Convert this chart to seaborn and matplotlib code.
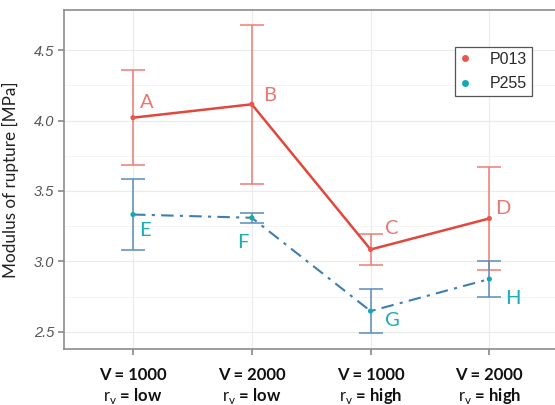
import numpy as np
import pandas as pd
import seaborn as sns
import matplotlib
matplotlib.use("Agg")
import matplotlib.pyplot as plt
from matplotlib.lines import Line2D

# ---- data ----
v_labels = ["V = 1000", "V = 2000", "V = 1000", "V = 2000"]
rv_labels = ["low", "low", "high", "high"]
series = ["P013", "P255"]
p013_mean = [4.02, 4.115, 3.085, 3.305]
p013_err = [0.335, 0.565, 0.11, 0.365]
p255_mean = [3.333, 3.31, 2.648, 2.875]
p255_err = [0.255, 0.035, 0.158, 0.125]
p013_letters = ["A", "B", "C", "D"]
p255_letters = ["E", "F", "G", "H"]
y_ticks = [2.5, 3.0, 3.5, 4.0, 4.5]

# ---- style ----
sns.set_theme(style="whitegrid")
plt.rcParams["font.family"] = ["Lato", "DejaVu Sans"]
plt.rcParams["mathtext.fontset"] = "custom"
plt.rcParams["mathtext.rm"] = "Lato"

red_line = "#e2473c"
red_err = "#ee7d75"
red_pt = "#e8574d"
red_txt = "#e9786f"
teal_pt = "#12a9b3"
teal_txt = "#1aadb5"
blue_line = "#3f7fae"
blue_err = "#5a8dbb"

x = np.arange(len(v_labels))
df = pd.DataFrame({
    "x": np.concatenate([x, x]),
    "value": p013_mean + p255_mean,
    "series": [series[0]] * len(x) + [series[1]] * len(x),
})

fig = plt.figure(figsize=(5.55, 4.05), dpi=100)
ax = fig.add_axes([64 / 555, 56 / 405, 496 / 555, 339 / 405])

# error bars
ax.errorbar(x, p013_mean, yerr=p013_err, fmt="none", ecolor=red_err,
            elinewidth=1.1, capsize=8.3, capthick=1.1, zorder=3)
ax.errorbar(x, p255_mean, yerr=p255_err, fmt="none", ecolor=blue_err,
            elinewidth=1.1, capsize=8.3, capthick=1.1, zorder=3)

sns.lineplot(data=df[df.series == series[0]], x="x", y="value", ax=ax,
             color=red_line, linewidth=1.8, legend=False, zorder=4)
sns.lineplot(data=df[df.series == series[1]], x="x", y="value", ax=ax,
             color=blue_line, linewidth=1.5, legend=False, zorder=4,
             linestyle=(0, (6, 3, 1.5, 3)))
sns.scatterplot(data=df, x="x", y="value", hue="series", ax=ax,
                palette=[red_pt, teal_pt], s=14, edgecolor="none",
                legend=False, zorder=5)

# letter annotations (offsets in points)
off_top = [(10, 11), (13, 6.5), (15, 15), (9.5, 7.5)]
off_bot = [(8.6, -11.5), (-6.5, -18), (15.5, -7), (17, -14)]
for i in range(len(x)):
    ax.annotate(p013_letters[i], (x[i], p013_mean[i]), xytext=off_top[i],
                textcoords="offset points", color=red_txt, fontsize=14.5,
                ha="center", va="center")
    ax.annotate(p255_letters[i], (x[i], p255_mean[i]), xytext=off_bot[i],
                textcoords="offset points", color=teal_txt, fontsize=14.5,
                ha="center", va="center")

# axes
ax.set_xlim(-0.581, 3.595)
ax.set_ylim(2.379, 4.784)
ax.set_yticks(y_ticks)
ax.set_yticks([2.75, 3.25, 3.75, 4.25], minor=True)
ax.set_yticklabels([f"{t:.1f}" for t in y_ticks], fontsize=10.5,
                   style="italic", color="#555555", family="Liberation Sans")
ax.set_xticks(x)
ax.set_xticklabels([f"{v}\n" + r"$\mathrm{r}_{\mathrm{v}}$" + f" = {r}"
                    for v, r in zip(v_labels, rv_labels)],
                   fontsize=12, fontweight="bold", color="#111111",
                   linespacing=1.2)
ax.set_xlabel("")
ax.set_ylabel("Modulus of rupture [MPa]", fontsize=12.3, color="#222222")
ax.yaxis.set_label_coords(-0.09, 0.5)

ax.grid(True, which="major", color="#ebebeb", linewidth=0.8)
ax.grid(True, which="minor", axis="y", color="#f2f2f2", linewidth=0.6)
ax.set_facecolor("white")
for s in ax.spines.values():
    s.set_color("#8c8c8c")
    s.set_linewidth(1.2)
ax.tick_params(axis="y", which="major", length=4, color="#8c8c8c",
               direction="out", left=True, pad=3)
ax.tick_params(axis="x", which="major", length=4, color="#8c8c8c",
               direction="out", bottom=True, pad=9)
ax.tick_params(axis="both", which="minor", length=0)

handles = [Line2D([], [], marker="o", linestyle="none", markersize=5,
                  markerfacecolor=c, markeredgecolor="none")
           for c in [red_pt, teal_pt]]
leg = ax.legend(handles, series, loc="upper right",
                bbox_to_anchor=(0.9435, 0.891), frameon=True, fancybox=False,
                edgecolor="#555555", framealpha=1, labelspacing=0.6,
                handlelength=0.7, handletextpad=1.2, borderpad=0.3,
                borderaxespad=0,
                prop={"family": "Liberation Sans", "size": 11.5})
leg.get_frame().set_linewidth(0.9)
for t in leg.get_texts():
    t.set_color("#2a2a2a")

fig.savefig("out.png", dpi=100)
